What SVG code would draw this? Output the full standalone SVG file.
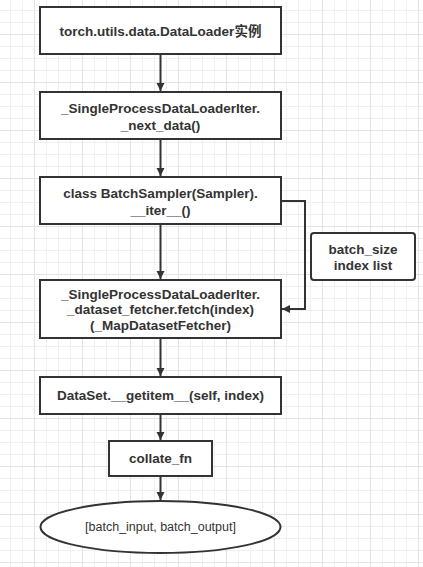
<svg xmlns="http://www.w3.org/2000/svg" width="423" height="567" viewBox="0 0 423 567">
<defs>
<pattern id="minor" width="12" height="12" patternUnits="userSpaceOnUse" x="10" y="10">
<path d="M0.5 0V12M0 0.5H12" fill="none" stroke="#f0f0f0" stroke-width="1"/>
</pattern>
<pattern id="major" width="48" height="48" patternUnits="userSpaceOnUse" x="34" y="34">
<path d="M0.5 0V48M0 0.5H48" fill="none" stroke="#e3e3e3" stroke-width="1"/>
</pattern>
<marker id="arr" markerWidth="10" markerHeight="10" refX="8" refY="4" orient="auto" markerUnits="userSpaceOnUse">
<path d="M0,0 L8,4 L0,8 Z" fill="#333"/>
</marker>
<style>
.box{fill:#fff;stroke:#333;stroke-width:2}
.t{font-family:"Liberation Sans","Noto Sans CJK SC",sans-serif;font-weight:bold;font-size:13.5px;fill:#333;text-anchor:middle;dominant-baseline:central}
.e{font-weight:normal;font-size:12.5px}
.c{fill:none;stroke:#333;stroke-width:2}
</style>
</defs>
<rect width="423" height="567" fill="#fff"/>
<rect width="423" height="567" fill="url(#minor)"/>
<rect width="423" height="567" fill="url(#major)"/>
<g id="connectors">
<path class="c" d="M160.5 55V91" marker-end="url(#arr)"/>
<path class="c" d="M160.5 140V176" marker-end="url(#arr)"/>
<path class="c" d="M160.5 225V279" marker-end="url(#arr)"/>
<path class="c" d="M281 201H305V309H282" marker-end="url(#arr)"/>
<path class="c" d="M160.5 339V376" marker-end="url(#arr)"/>
<path class="c" d="M160.5 415V440" marker-end="url(#arr)"/>
<path class="c" d="M160.5 476V500" marker-end="url(#arr)"/>
</g>
<g id="n1">
<rect class="box" x="40" y="7" width="241" height="47"/>
<text class="t" x="160.5" y="31">torch.utils.data.DataLoader实例</text>
</g>
<g id="n2">
<rect class="box" x="40" y="92" width="241" height="47"/>
<text class="t" x="160.5" y="108">_SingleProcessDataLoaderIter.</text>
<text class="t" x="160.5" y="125">_next_data()</text>
</g>
<g id="n3">
<rect class="box" x="40" y="177" width="241" height="47"/>
<text class="t" x="160.5" y="193">class BatchSampler(Sampler).</text>
<text class="t" x="160.5" y="210">__iter__()</text>
</g>
<g id="n4">
<rect class="box" x="40" y="280" width="241" height="58"/>
<text class="t" x="160.5" y="294">_SingleProcessDataLoaderIter.</text>
<text class="t" x="160.5" y="309.5">_dataset_fetcher.fetch(index)</text>
<text class="t" x="160.5" y="325">(_MapDatasetFetcher)</text>
</g>
<g id="n5">
<rect class="box" x="311" y="233" width="104" height="47" rx="3"/>
<text class="t" x="363" y="249">batch_size</text>
<text class="t" x="363" y="265">index list</text>
</g>
<g id="n6">
<rect class="box" x="40" y="377" width="241" height="37"/>
<text class="t" x="160.5" y="395.5">DataSet.__getitem__(self, index)</text>
</g>
<g id="n7">
<rect class="box" x="109" y="441" width="103" height="35"/>
<text class="t" x="160.5" y="458.5">collate_fn</text>
</g>
<g id="n8">
<ellipse class="box" cx="160.5" cy="527" rx="120" ry="26"/>
<text class="t e" x="160.5" y="527">[batch_input, batch_output]</text>
</g>
</svg>
